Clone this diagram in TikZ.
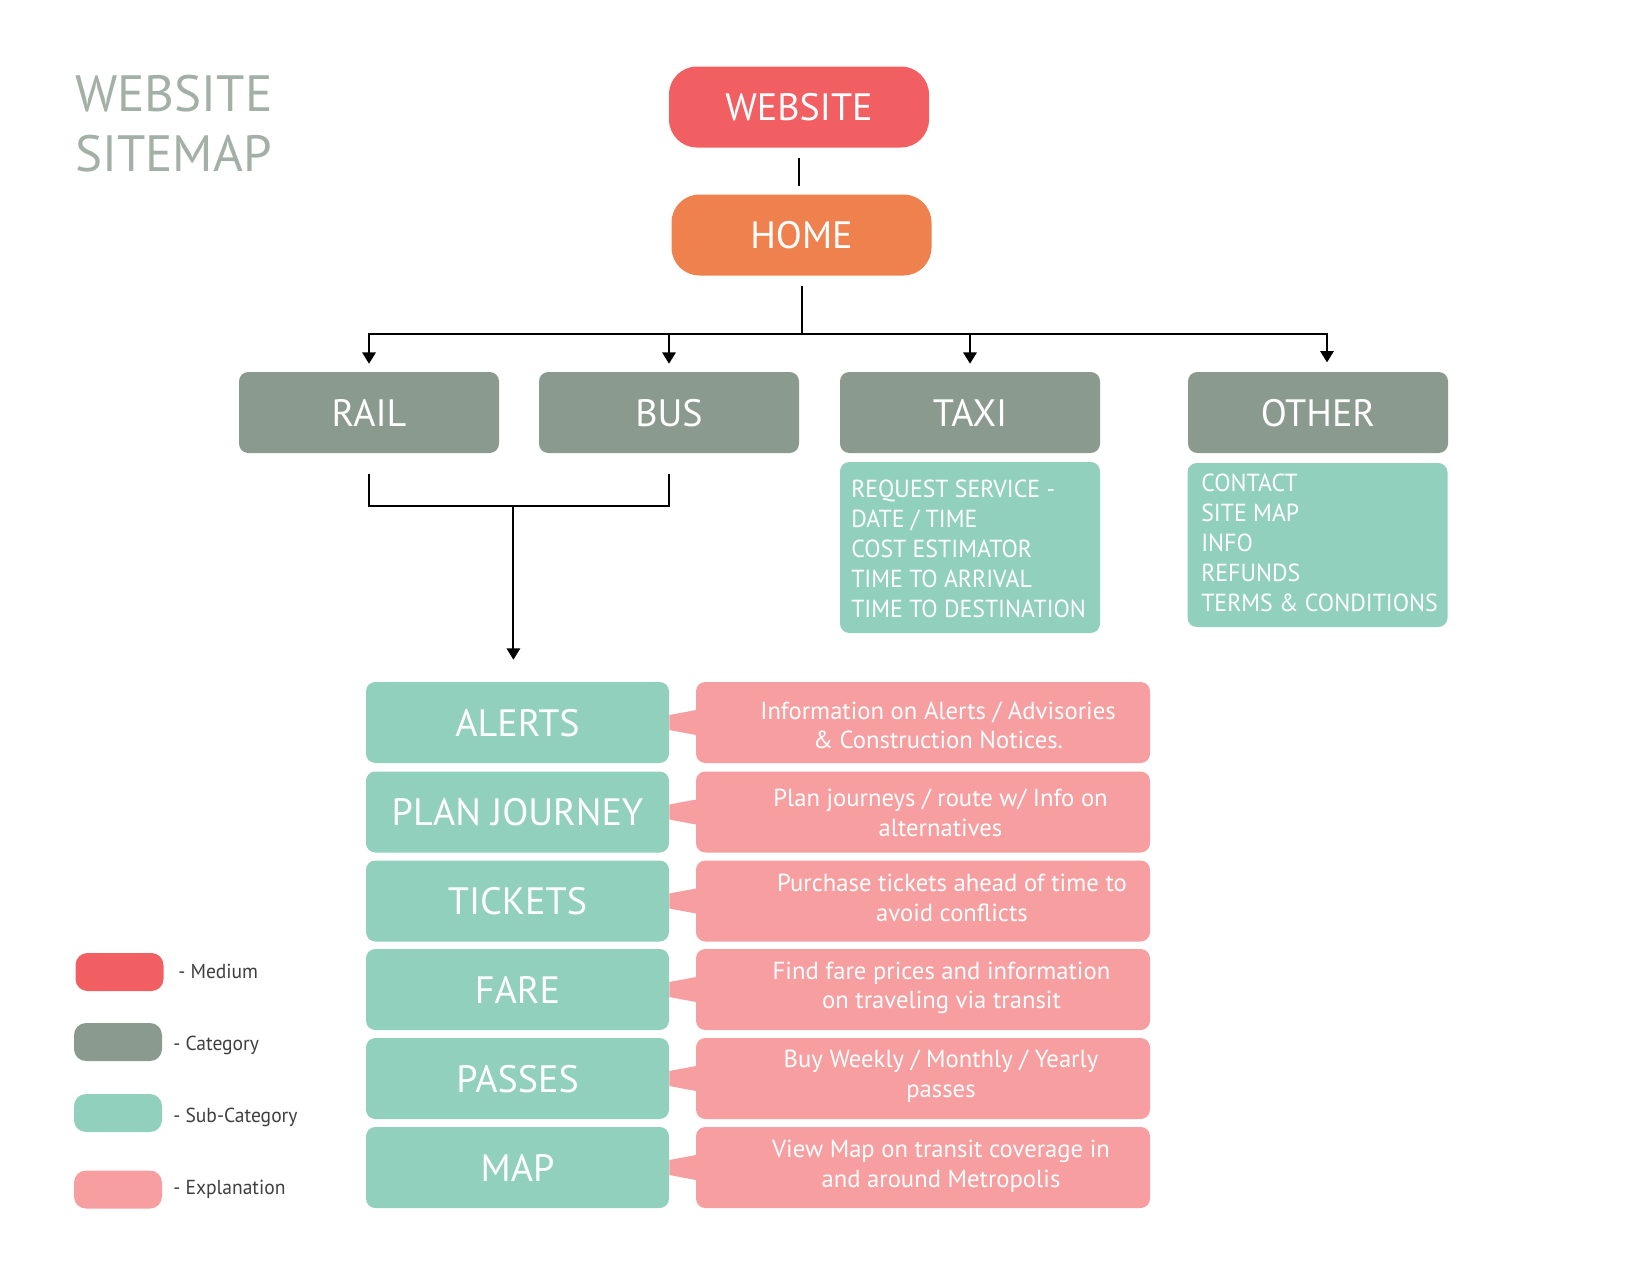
\documentclass[tikz,border=0pt]{standalone}
\usepackage{fontspec}
\setmainfont{PT Sans}
\newfontfamily\narrowface[FakeStretch=0.965]{PT Sans}
\usetikzlibrary{arrows.meta,calc}

\definecolor{cmedium}{HTML}{F25F62}
\definecolor{chome}{HTML}{EF814E}
\definecolor{ccat}{HTML}{8B9A8F}
\definecolor{csub}{HTML}{91D0BD}
\definecolor{cexp}{HTML}{F69EA0}
\definecolor{ctitle}{HTML}{A3B0A6}
\definecolor{clegend}{HTML}{3F3F3F}

\newcommand\titlefont{\fontsize{38.3}{45}\selectfont}
\newcommand\bigfont{\fontsize{28.6}{34}\selectfont}
\newcommand\listfont{\narrowface\fontsize{18.5}{22.5}\selectfont}
\newcommand\explfont{\fontsize{18.5}{22}\selectfont}
\newcommand\legendfont{\narrowface\fontsize{15.2}{19}\selectfont}
% lines stacked with the first baseline as reference
\newcommand\stackrows[2][c]{\begin{tabular}[t]{@{}#1@{}}#2\end{tabular}}

% one sub-category row: box, explanation box, pointer and explanation text
% #1 name, #2 label, #3 centre y, #4 text x, #5 first baseline, #6 line one, #7 line two
\newcommand\subrow[7]{%
  \node[sub] (#1) at (517.5,#3) {#2};
  \node[expl] (#1-info) at (923,#3) {};
  \fill[cexp] ($(#1.east)+(0,-7.5)$) -- ($(#1-info.west)+(3,-13)$)
    -- ($(#1-info.west)+(3,13)$) -- ($(#1.east)+(0,7.5)$) -- cycle;
  \node[expltext] (#1-text) at (#4,#5) {\stackrows{#6\\#7}};
}

\begin{document}
\begin{tikzpicture}[x=0.75pt,y=-0.75pt,
  box/.style={inner sep=0pt, text=white, font=\bigfont, text depth=0pt},
  medium/.style={box, fill=cmedium, rounded corners=21pt,
    minimum width=195pt, minimum height=60.75pt},
  cat/.style={box, fill=ccat, rounded corners=7pt,
    minimum width=195pt, minimum height=60.75pt},
  sub/.style={box, fill=csub, rounded corners=7pt,
    minimum width=227.25pt, minimum height=60.75pt},
  expl/.style={fill=cexp, rounded corners=7pt, inner sep=0pt,
    minimum width=340.5pt, minimum height=60.75pt},
  listbox/.style={fill=csub, rounded corners=7pt, inner sep=0pt,
    minimum width=195pt},
  listtext/.style={anchor=base west, inner sep=0pt, text=white, font=\listfont},
  expltext/.style={anchor=base, inner sep=0pt, text=white, font=\explfont},
  swatch/.style={rounded corners=9pt, inner sep=0pt,
    minimum width=66pt, minimum height=28.5pt},
  legendtext/.style={anchor=base west, inner sep=0pt, text=clegend, font=\legendfont},
  link/.style={line width=1.5pt, black},
  arrow/.style={link, -{Triangle[length=8.5pt,width=10pt]}}]

\useasboundingbox (0,0) rectangle (1651,1275);
\fill[white] (0,0) rectangle (1651,1275);

% title
\node[anchor=base west, inner sep=0pt, text=ctitle, font=\titlefont] (title)
  at (75,111) {\stackrows[l]{WEBSITE\\SITEMAP}};

% top of the tree
\node[medium] (website) at (799,107) {WEBSITE};
\node[medium, fill=chome] (home) at (801.5,235) {HOME};

% categories
\node[cat] (rail) at (369,412.5) {RAIL};
\node[cat] (bus) at (669,412.5) {BUS};
\node[cat] (taxi) at (970,412.5) {TAXI};
\node[cat] (other) at (1318,412.5) {OTHER};

% taxi and other pages
\node[listbox, minimum height=128.25pt] (taxilist) at (970,547.5) {};
\node[listtext] (taxiitems) at (851,497) {\stackrows[l]{REQUEST SERVICE -\\DATE / TIME\\COST ESTIMATOR\\TIME TO ARRIVAL\\TIME TO DESTINATION}};
\node[listbox, minimum height=123pt] (otherlist) at (1317.5,545) {};
\node[listtext] (otheritems) at (1201,491) {\stackrows[l]{CONTACT\\SITE MAP\\INFO\\REFUNDS\\TERMS \& CONDITIONS}};

% shared rail / bus pages
\subrow{alerts}{ALERTS}{722.5}{938}{719}{Information on Alerts / Advisories}{\& Construction Notices.}
\subrow{plan}{PLAN JOURNEY}{812}{940.5}{806.7}{Plan journeys / route w/ Info on}{alternatives}
\subrow{tickets}{TICKETS}{901}{952}{891.7}{Purchase tickets ahead of time to}{avoid conflicts}
\subrow{fare}{FARE}{989.5}{941.5}{979}{Find fare prices and information}{on traveling via transit}
\subrow{passes}{PASSES}{1078.5}{941}{1067.7}{Buy Weekly / Monthly / Yearly}{passes}
\subrow{map}{MAP}{1167.5}{941}{1157.7}{View Map on transit coverage in}{and around Metropolis}

% connectors
\draw[link, shorten <=7.5pt, shorten >=6pt] (website.south) -- (website.south |- home.north);
\coordinate (hub) at (801.5,334);
\draw[link, shorten <=7.5pt] (home.south) -- (hub);
\draw[arrow, shorten >=6pt] (hub) -| (rail.north);
\draw[arrow, shorten >=6pt] (hub) -| (bus.north);
\draw[arrow, shorten >=6pt] (hub) -| (taxi.north);
\draw[arrow, shorten >=7pt] (hub) -| ([xshift=6.75pt]other.north);

\coordinate (merge) at (513.4,505.7);
\draw[link, shorten <=15.75pt] (rail.south) |- (merge);
\draw[link, shorten <=15.75pt] (bus.south) |- (merge);
\draw[arrow, shorten >=16.5pt] (merge) -- (merge |- alerts.north);

% legend
\node[swatch, fill=cmedium] (leg-medium) at (119.5,972) {};
\node[swatch, fill=ccat] (leg-cat) at (118,1042) {};
\node[swatch, fill=csub] (leg-sub) at (118,1113) {};
\node[swatch, fill=cexp] (leg-exp) at (118,1189.5) {};
\node[legendtext] (leg-medium-label) at (178,978) {- Medium};
\node[legendtext] (leg-cat-label) at (173,1050) {- Category};
\node[legendtext] (leg-sub-label) at (173,1122) {- Sub-Category};
\node[legendtext] (leg-exp-label) at (173,1194) {- Explanation};

\end{tikzpicture}
\end{document}
